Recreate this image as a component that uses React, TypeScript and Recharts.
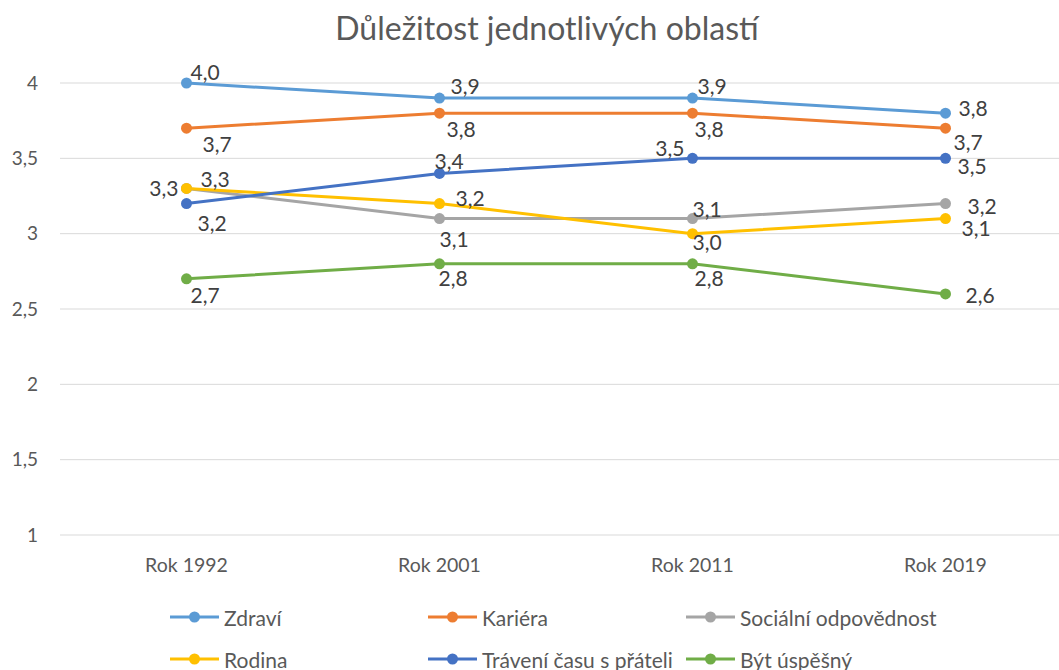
import React from "react";
import { LineChart, Line, XAxis, YAxis, CartesianGrid, LabelList } from "recharts";

const categories = ["Rok 1992", "Rok 2001", "Rok 2011", "Rok 2019"];
const zdravi = [4.0, 3.9, 3.9, 3.8];
const kariera = [3.7, 3.8, 3.8, 3.7];
const socialni = [3.3, 3.1, 3.1, 3.2];
const rodina = [3.3, 3.2, 3.0, 3.1];
const traveni = [3.2, 3.4, 3.5, 3.5];
const bytUspesny = [2.7, 2.8, 2.8, 2.6];
const yTicks = [1, 1.5, 2, 2.5, 3, 3.5, 4];

const FONT = "Lato, 'Open Sans', sans-serif";

type Off = [string, number, number];
const series: { key: string; name: string; color: string; values: number[]; offs: Off[] }[] = [
  { key: "zdravi", name: "Zdraví", color: "#5B9BD5", values: zdravi, offs: [["start", 4, -12], ["start", 11, -13], ["start", 5, -13], ["start", 13, -6]] },
  { key: "kariera", name: "Kariéra", color: "#ED7D31", values: kariera, offs: [["start", 16, 15], ["start", 7, 15], ["start", 2, 15], ["start", 8, 13]] },
  { key: "socialni", name: "Sociální odpovědnost", color: "#A5A5A5", values: socialni, offs: [["start", 14, -10], ["start", 0, 20], ["start", 0, -10], ["start", 22, 2]] },
  { key: "rodina", name: "Rodina", color: "#FFC000", values: rodina, offs: [["end", -8, -1], ["start", 16, -6], ["start", 0, 8], ["start", 16, 9]] },
  { key: "traveni", name: "Trávení času s přáteli", color: "#4472C4", values: traveni, offs: [["start", 11, 19], ["start", -5, -13], ["end", -8, -11], ["start", 12, 7]] },
  { key: "byt", name: "Být úspěšný", color: "#70AD47", values: bytUspesny, offs: [["start", 4, 16], ["start", -1, 14], ["start", 2, 14], ["start", 20, 1]] },
];

const data = categories.map((c, i) => {
  const row: any = { name: c };
  series.forEach((s) => (row[s.key] = s.values[i]));
  return row;
});

const fmt = (v: number) => v.toFixed(1).replace(".", ",");

const makeLabel = (offs: Off[]) => (props: any) => {
  const { x, y, value, index } = props;
  const [anchor, dx, dy] = offs[index];
  return (
    <text x={x + dx} y={y + dy} textAnchor={anchor as any} dominantBaseline="central" fill="#404040" fontSize={21} fontFamily={FONT}>
      {fmt(value)}
    </text>
  );
};

const legendLayout = [
  { x: 170, y: 617 },
  { x: 428, y: 617 },
  { x: 686, y: 617 },
  { x: 170, y: 659 },
  { x: 428, y: 659 },
  { x: 686, y: 659 },
];

export default function App() {
  return (
    <div style={{ position: "absolute", left: 0, top: 0, width: 1059, height: 670, overflow: "hidden", background: "#fff", fontFamily: FONT }}>
      <div style={{ position: "absolute", left: 0, top: 8, width: 1094, textAlign: "center", fontSize: 32, lineHeight: "40px", color: "#595959" }}>
        Důležitost jednotlivých oblastí
      </div>
      <div style={{ position: "absolute", left: 0, top: 0 }}>
        <LineChart width={1080} height={670} data={data} margin={{ top: 83, right: 8, bottom: 105, left: 0 }}>
          <CartesianGrid vertical={false} stroke="#D9D9D9" strokeWidth={1} />
          <XAxis
            dataKey="name"
            axisLine={false}
            tickLine={false}
            tickSize={0}
            tickMargin={23}
            height={30}
            padding={{ left: 126.5, right: 126.5 }}
            tick={{ fill: "#595959", fontSize: 19.5, fontFamily: FONT }}
          />
          <YAxis
            domain={[1, 4]}
            ticks={yTicks}
            width={60}
            axisLine={false}
            tickLine={false}
            tickSize={0}
            tickMargin={22}
            tickFormatter={(v: number) => String(v).replace(".", ",")}
            tick={{ fill: "#595959", fontSize: 19, fontFamily: FONT }}
          />
          {series.map((s) => (
            <Line
              key={s.key}
              dataKey={s.key}
              name={s.name}
              stroke={s.color}
              strokeWidth={3}
              dot={{ r: 5.5, fill: s.color, stroke: s.color, strokeWidth: 0 }}
              activeDot={false}
              isAnimationActive={false}
            >
              <LabelList dataKey={s.key} content={makeLabel(s.offs) as any} />
            </Line>
          ))}
        </LineChart>
      </div>
      {series.map((s, i) => {
        const L = legendLayout[i];
        return (
          <div key={s.key} style={{ position: "absolute", left: L.x, top: L.y - 15, height: 30, display: "flex", alignItems: "center", whiteSpace: "nowrap" }}>
            <svg width={49} height={14} style={{ display: "block" }}>
              <line x1={0} y1={7} x2={49} y2={7} stroke={s.color} strokeWidth={3} />
              <circle cx={24.5} cy={7} r={5.5} fill={s.color} />
            </svg>
            <span style={{ marginLeft: 5, fontSize: 21, color: "#595959" }}>{s.name}</span>
          </div>
        );
      })}
    </div>
  );
}
